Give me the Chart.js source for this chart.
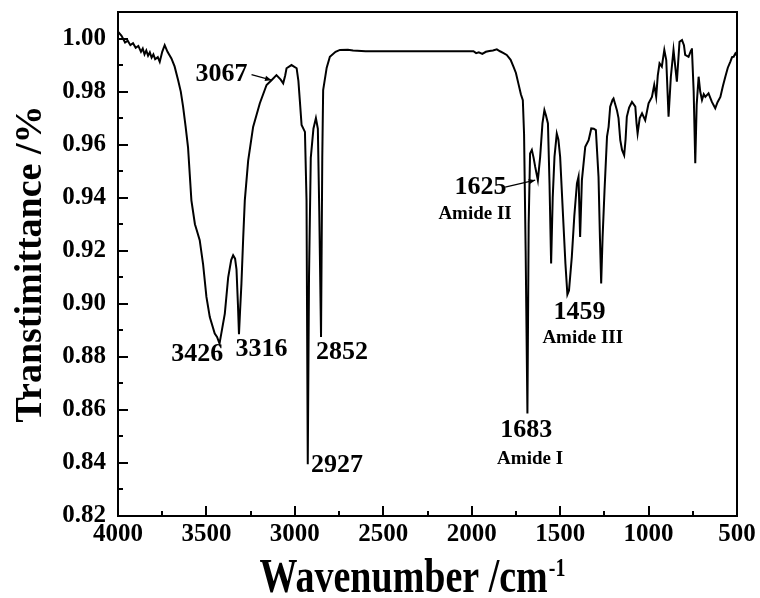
<!DOCTYPE html>
<html>
<head>
<meta charset="utf-8">
<script src="https://cdn.jsdelivr.net/npm/chart.js@4.4.0/dist/chart.umd.min.js"></script>
<style>
  html, body { margin: 0; padding: 0; background: #fff; }
  #wrap { width: 760px; height: 598px; }
</style>
</head>
<body>
<div id="wrap"><canvas id="ftir"></canvas></div>
<script>
// ---- data ----
const wavenumbers = [
  4000, 3980, 3960, 3945, 3930, 3915, 3900, 3885, 3870, 3860, 3850, 3840, 3830, 3820, 3810, 3800, 3790, 3775, 3764, 3750,
  3736, 3720, 3698, 3680, 3660, 3645, 3632, 3618, 3604, 3585, 3565, 3556, 3538, 3519, 3500, 3481, 3453, 3440, 3426, 3410,
  3396, 3377, 3360, 3349, 3338, 3330, 3322, 3316, 3310, 3302, 3292, 3283, 3264, 3236, 3198, 3160, 3132, 3104, 3080, 3066,
  3055, 3047, 3019, 2990, 2980, 2972, 2962, 2943, 2934, 2927, 2920, 2910, 2895, 2881, 2870, 2862, 2852, 2845, 2840, 2820,
  2802, 2770, 2745, 2700, 2671, 2600, 2500, 2400, 2300, 2200, 2100, 1990, 1975, 1960, 1940, 1920, 1900, 1880, 1858, 1840,
  1820, 1802, 1780, 1764, 1750, 1736, 1722, 1711, 1704, 1695, 1685, 1678, 1670, 1660, 1650, 1641, 1626, 1613, 1600, 1589,
  1580, 1569, 1560, 1551, 1542, 1532, 1519, 1510, 1500, 1485, 1470, 1459, 1450, 1434, 1420, 1405, 1396, 1387, 1377, 1358,
  1339, 1324, 1310, 1298, 1283, 1275, 1268, 1260, 1249, 1235, 1226, 1217, 1204, 1198, 1179, 1170, 1160, 1150, 1138, 1130,
  1123, 1110, 1094, 1075, 1068, 1062, 1050, 1037, 1019, 1000, 981, 968, 957, 948, 938, 925, 911, 900, 887, 874,
  859, 850, 840, 825, 811, 800, 793, 774, 760, 755, 745, 736, 728, 717, 708, 698, 688, 679, 661, 642,
  623, 610, 594, 580, 566, 552, 538, 528, 519, 509, 500
];
const transmittance = [
  1.0026, 1.0010, 0.9985, 0.9992, 0.9975, 0.9982, 0.9965, 0.9972, 0.9950, 0.9962, 0.9940, 0.9955, 0.9935, 0.9948, 0.9928, 0.9940, 0.9922, 0.9930, 0.9912, 0.9950,
  0.9975, 0.9950, 0.9925, 0.9895, 0.9843, 0.9800, 0.9743, 0.9670, 0.9590, 0.9390, 0.9300, 0.9280, 0.9240, 0.9150, 0.9026, 0.8950, 0.8888, 0.8875, 0.8850, 0.8910,
  0.8963, 0.9100, 0.9165, 0.9183, 0.9170, 0.9130, 0.9000, 0.8885, 0.8970, 0.9077, 0.9250, 0.9390, 0.9540, 0.9667, 0.9756, 0.9825, 0.9843, 0.9862, 0.9845, 0.9831,
  0.9860, 0.9888, 0.9900, 0.9888, 0.9840, 0.9768, 0.9674, 0.9648, 0.9390, 0.8395, 0.9100, 0.9550, 0.9660, 0.9700, 0.9660, 0.9350, 0.8875, 0.9550, 0.9806, 0.9890,
  0.9931, 0.9950, 0.9957, 0.9958, 0.9955, 0.9952, 0.9952, 0.9952, 0.9952, 0.9952, 0.9952, 0.9952, 0.9945, 0.9948, 0.9942, 0.9950, 0.9953, 0.9955, 0.9959, 0.9952,
  0.9945, 0.9938, 0.9920, 0.9894, 0.9870, 0.9830, 0.9790, 0.9768, 0.9640, 0.9200, 0.8586, 0.9300, 0.9567, 0.9580, 0.9550, 0.9516, 0.9466, 0.9554, 0.9680, 0.9730,
  0.9710, 0.9680, 0.9450, 0.9152, 0.9400, 0.9554, 0.9642, 0.9620, 0.9554, 0.9350, 0.9150, 0.9035, 0.9050, 0.9177, 0.9330, 0.9454, 0.9479, 0.9252, 0.9466, 0.9592,
  0.9617, 0.9661, 0.9660, 0.9655, 0.9479, 0.9250, 0.9077, 0.9250, 0.9428, 0.9630, 0.9667, 0.9743, 0.9768, 0.9774, 0.9730, 0.9700, 0.9617, 0.9580, 0.9560, 0.9620,
  0.9705, 0.9740, 0.9761, 0.9743, 0.9680, 0.9642, 0.9700, 0.9718, 0.9692, 0.9756, 0.9780, 0.9825, 0.9780, 0.9860, 0.9906, 0.9894, 0.9957, 0.9919, 0.9705, 0.9856,
  0.9957, 0.9900, 0.9837, 0.9988, 0.9994, 0.9975, 0.9938, 0.9931, 0.9955, 0.9963, 0.9800, 0.9530, 0.9750, 0.9856, 0.9800, 0.9768, 0.9790, 0.9780, 0.9793, 0.9761,
  0.9737, 0.9760, 0.9780, 0.9820, 0.9856, 0.9890, 0.9912, 0.9930, 0.9931, 0.9944, 0.9935
];
const xTickLabels = [4000, 3500, 3000, 2500, 2000, 1500, 1000, 500];
const yTickLabels = ['0.82', '0.84', '0.86', '0.88', '0.90', '0.92', '0.94', '0.96', '0.98', '1.00'];

// peak labels, placed in data space (wavenumber, transmittance)
const peakNotes = [
  { text: '3426', wn: 3552, t: 0.8810 },
  { text: '3316', wn: 3188, t: 0.8830 },
  { text: '3067', wn: 3415, t: 0.9866 },
  { text: '2852', wn: 2734, t: 0.8818 },
  { text: '2927', wn: 2762, t: 0.8390 },
  { text: '1625', wn: 1950, t: 0.9438 },
  { text: '1683', wn: 1692, t: 0.8525 },
  { text: '1459', wn: 1390, t: 0.8968 }
];
const amideNotes = [
  { text: 'Amide II', wn: 1981, t: 0.9338 },
  { text: 'Amide I', wn: 1670, t: 0.8414 },
  { text: 'Amide III', wn: 1372, t: 0.8870 }
];
const arrows = [
  { from: [3245, 0.9864], to: [3132, 0.9843] },
  { from: [1811, 0.9440], to: [1641, 0.9466] }
];

const SERIF = '"Liberation Serif", "Times New Roman", serif';

const frame = {
  id: 'frame',
  afterDraw(chart) {
    const { ctx, chartArea: a, scales: { x, y } } = chart;
    ctx.save();
    ctx.strokeStyle = '#000';
    ctx.fillStyle = '#000';
    ctx.lineWidth = 2;
    ctx.strokeRect(a.left, a.top, a.right - a.left, a.bottom - a.top);

    // inward tick marks
    ctx.beginPath();
    x.ticks.forEach(t => {
      if (t.value <= 500 || t.value >= 4000) return;
      const px = Math.round(x.getPixelForValue(t.value));
      const len = t.value % 500 === 0 ? 10 : 5;
      ctx.moveTo(px, a.bottom);
      ctx.lineTo(px, a.bottom - len);
    });
    y.ticks.forEach(t => {
      const k = Math.round(t.value * 100);
      if (k <= 82 || k >= 101) return;
      const py = Math.round(y.getPixelForValue(t.value));
      const len = k % 2 === 0 ? 10 : 5;
      ctx.moveTo(a.left, py);
      ctx.lineTo(a.left + len, py);
    });
    ctx.stroke();

    // x axis title with superscript (tall bold serif)
    ctx.textBaseline = 'alphabetic';
    ctx.textAlign = 'left';
    const main = 'Wavenumber /cm', sup = '-1';
    ctx.font = 'bold 38px ' + SERIF;
    const wMain = ctx.measureText(main).width;
    ctx.font = 'bold 20px ' + SERIF;
    const wSup = ctx.measureText(sup).width;
    const x0 = 412 - (wMain + wSup) / 2;
    ctx.save();
    ctx.translate(0, 592);
    ctx.scale(1, 1.25);
    ctx.font = 'bold 38px ' + SERIF;
    ctx.fillText(main, x0, 0);
    ctx.font = 'bold 20px ' + SERIF;
    ctx.fillText(sup, x0 + wMain + 1, -13);
    ctx.restore();

    // peak annotations
    ctx.textAlign = 'center';
    ctx.textBaseline = 'middle';
    ctx.font = 'bold 26px ' + SERIF;
    peakNotes.forEach(n => ctx.fillText(n.text, x.getPixelForValue(n.wn), y.getPixelForValue(n.t)));
    ctx.font = 'bold 19px ' + SERIF;
    amideNotes.forEach(n => ctx.fillText(n.text, x.getPixelForValue(n.wn), y.getPixelForValue(n.t)));

    // leader arrows
    ctx.lineWidth = 1.2;
    arrows.forEach(ar => {
      const x1 = x.getPixelForValue(ar.from[0]), y1 = y.getPixelForValue(ar.from[1]);
      const x2 = x.getPixelForValue(ar.to[0]), y2 = y.getPixelForValue(ar.to[1]);
      const ang = Math.atan2(y2 - y1, x2 - x1);
      ctx.beginPath();
      ctx.moveTo(x1, y1);
      ctx.lineTo(x2, y2);
      ctx.stroke();
      ctx.beginPath();
      ctx.moveTo(x2, y2);
      ctx.lineTo(x2 - 7 * Math.cos(ang - 0.4), y2 - 7 * Math.sin(ang - 0.4));
      ctx.lineTo(x2 - 7 * Math.cos(ang + 0.4), y2 - 7 * Math.sin(ang + 0.4));
      ctx.closePath();
      ctx.fill();
    });
    ctx.restore();
  }
};

new Chart(document.getElementById('ftir'), {
  type: 'line',
  data: {
    datasets: [{
      data: wavenumbers.map((w, i) => ({ x: w, y: transmittance[i] })),
      borderColor: '#000',
      borderWidth: 2,
      pointRadius: 0,
      tension: 0,
      fill: false
    }]
  },
  options: {
    responsive: true,
    maintainAspectRatio: false,
    devicePixelRatio: 1,
    animation: false,
    layout: { padding: { top: 12, right: 23, left: 0, bottom: 0 } },
    plugins: { legend: { display: false }, tooltip: { enabled: false } },
    scales: {
      x: {
        type: 'linear',
        min: 500,
        max: 4000,
        reverse: true,
        grid: { display: false, drawTicks: false },
        border: { display: false },
        afterFit: s => { s.height = 82; s.paddingLeft = 0; s.paddingRight = 0; },
        ticks: {
          stepSize: 250,
          autoSkip: false,
          maxRotation: 0,
          padding: 4,
          color: '#000',
          font: { family: SERIF, size: 25, weight: 'bold' },
          callback: v => xTickLabels.includes(v) ? String(v) : ''
        }
      },
      y: {
        min: 0.82,
        max: 1.01,
        grid: { display: false, drawTicks: false },
        border: { display: false },
        afterFit: s => { s.width = 118; s.paddingTop = 0; s.paddingBottom = 0; },
        ticks: {
          stepSize: 0.01,
          autoSkip: false,
          padding: 12,
          color: '#000',
          font: { family: SERIF, size: 25, weight: 'bold' },
          callback: v => {
            const s = v.toFixed(2);
            return yTickLabels.includes(s) ? s : '';
          }
        },
        title: {
          display: true,
          text: 'Transtimittance /%',
          color: '#000',
          padding: { top: 8, bottom: 0 },
          font: { family: SERIF, size: 38, weight: 'bold' }
        }
      }
    }
  },
  plugins: [frame]
});
</script>
</body>
</html>
